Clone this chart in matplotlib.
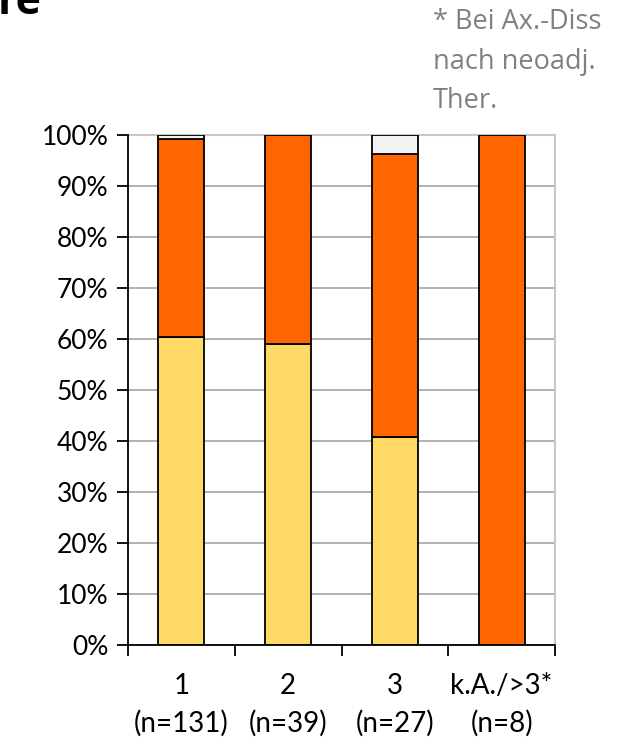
import matplotlib.pyplot as plt
import numpy as np

# share of each group per category, in percent
categories = ["1\n(n=131)", "2\n(n=39)", "3\n(n=27)", "k.A./>3*\n(n=8)"]
yellow_vals = [60.3, 59.0, 40.7, 0.0]
orange_vals = [38.9, 41.0, 55.6, 100.0]
grey_vals = [0.8, 0.0, 3.7, 0.0]

plt.rcParams['font.family'] = ['Lato', 'DejaVu Sans']

fig = plt.figure(figsize=(6.31, 7.42), dpi=100)
ax = fig.add_axes([0.2029, 0.1307, 0.6767, 0.6874])

x = np.arange(1, len(categories) + 1)
w = 0.43
ax.bar(x, yellow_vals, w, color="#FFD966", edgecolor="black", linewidth=1.3, zorder=3)
ax.bar(x, orange_vals, w, bottom=yellow_vals, color="#FF6600", edgecolor="black", linewidth=1.3, zorder=3)
bottoms = np.array(yellow_vals) + np.array(orange_vals)
for xi, b, g in zip(x, bottoms, grey_vals):
    if g > 0:
        ax.bar(xi, g, w, bottom=b, color="#F2F2F2", edgecolor="black", linewidth=1.3, zorder=3)

ax.set_xlim(0.5, 4.5)
ax.set_ylim(0, 100)
ax.set_yticks(np.arange(0, 101, 10))
ax.set_yticklabels(["%d%%" % v for v in range(0, 101, 10)], fontsize=19)
ax.yaxis.grid(True, color="#a6a6a6", linewidth=1.2, zorder=0)
ax.tick_params(axis="y", length=8, width=1.3, pad=6)

ax.set_xticks(np.arange(0.5, 4.6, 1.0))
ax.set_xticklabels([])
ax.tick_params(axis="x", length=8, width=1.3)
ax.set_xticks(x, minor=True)
ax.set_xticklabels(categories, minor=True, fontsize=20, linespacing=1.5)
ax.tick_params(axis="x", which="minor", length=0, pad=20)

for s in ["left", "bottom"]:
    ax.spines[s].set_linewidth(1.3)
    ax.spines[s].set_zorder(4)
ax.spines["top"].set_color("#c8c8c8")
ax.spines["right"].set_color("#c8c8c8")
ax.spines["top"].set_linewidth(1.5)
ax.spines["right"].set_linewidth(1.5)

fig.text(433 / 631, 1 - 8 / 742, "* Bei Ax.-Diss\nnach neoadj.\nTher.", color="#808080",
         fontsize=19.5, family=["Open Sans", "DejaVu Sans"], va="top", ha="left", linespacing=1.55)
fig.text(-0.003, 1 - 14 / 742, "re", fontsize=31, fontweight="bold", va="baseline", ha="left",
         family=["Open Sans", "DejaVu Sans"])

fig.savefig("out.png", dpi=100)
